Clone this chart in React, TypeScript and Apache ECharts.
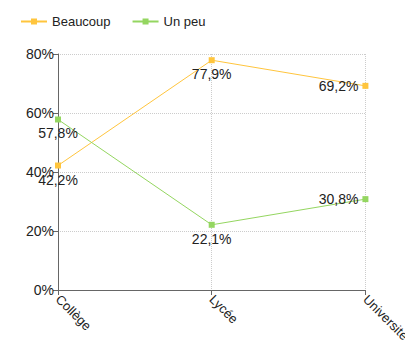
import React, { useEffect, useRef } from "react";
import * as echarts from "echarts";

const categories = ["Collège", "Lycée", "Université"];
const beaucoup = [42.2, 77.9, 69.2];
const unPeu = [57.8, 22.1, 30.8];
const yTicks = [0, 20, 40, 60, 80];

const ORANGE = "#ffc53d";
const GREEN = "#94d660";
const FONT = "'Liberation Sans', Arial, sans-serif";
// Legend icon: a short line with a small square marker in its middle
const LEGEND_ICON = "path://M0,6H26V8H0Z M10,4H16V10H10Z";

const fmt = (v: number) => v.toFixed(1).replace(".", ",") + "%";

export default function App() {
  const ref = useRef<HTMLDivElement>(null);

  useEffect(() => {
    if (!ref.current) return;
    const chart = echarts.init(ref.current, null, { renderer: "svg" });

    const labelPos = (i: number) => (i === categories.length - 1 ? "left" : "bottom");

    const makeSeries = (name: string, values: number[], color: string) => ({
      name,
      type: "line",
      data: values.map((v, i) => ({
        value: v,
        label: { position: labelPos(i) },
      })),
      symbol: "rect",
      symbolSize: 6,
      itemStyle: { color },
      lineStyle: { color, width: 1 },
      label: {
        show: true,
        formatter: (p: any) => fmt(p.value),
        color: "#222",
        fontSize: 14,
        fontFamily: FONT,
        distance: 4,
      },
    });

    chart.setOption({
      animation: false,
      textStyle: { fontFamily: FONT },
      legend: {
        left: 16,
        top: 10,
        itemWidth: 26,
        itemHeight: 14,
        itemGap: 22,
        itemStyle: { borderWidth: 0 },
        textStyle: { fontSize: 13, color: "#222", fontFamily: FONT },
        data: [
          { name: "Beaucoup", icon: LEGEND_ICON },
          { name: "Un peu", icon: LEGEND_ICON },
        ],
      },
      grid: { left: 58, right: 47, top: 54, bottom: 59, containLabel: false },
      xAxis: {
        type: "category",
        data: categories,
        boundaryGap: false,
        axisLine: { lineStyle: { color: "#666" } },
        axisTick: { show: true, alignWithLabel: true, length: 5, lineStyle: { color: "#666" } },
        axisLabel: {
          rotate: -45,
          fontSize: 13,
          color: "#222",
          fontFamily: FONT,
          margin: 7,
          interval: 0,
        },
        splitLine: { show: true, lineStyle: { color: "#ccc", type: "dotted" } },
      },
      yAxis: {
        type: "value",
        min: yTicks[0],
        max: yTicks[yTicks.length - 1],
        interval: 20,
        axisLine: { show: true, lineStyle: { color: "#666" } },
        axisTick: { show: true, length: 5, lineStyle: { color: "#666" } },
        axisLabel: {
          formatter: (v: number) => v + "%",
          fontSize: 14,
          color: "#222",
          fontFamily: FONT,
          margin: 4,
        },
        splitLine: { show: true, lineStyle: { color: "#ccc", type: "dotted" } },
      },
      series: [
        makeSeries("Beaucoup", beaucoup, ORANGE),
        makeSeries("Un peu", unPeu, GREEN),
      ],
    });

    return () => chart.dispose();
  }, []);

  return <div ref={ref} style={{ width: 413, height: 349, margin: -8 }} />;
}
